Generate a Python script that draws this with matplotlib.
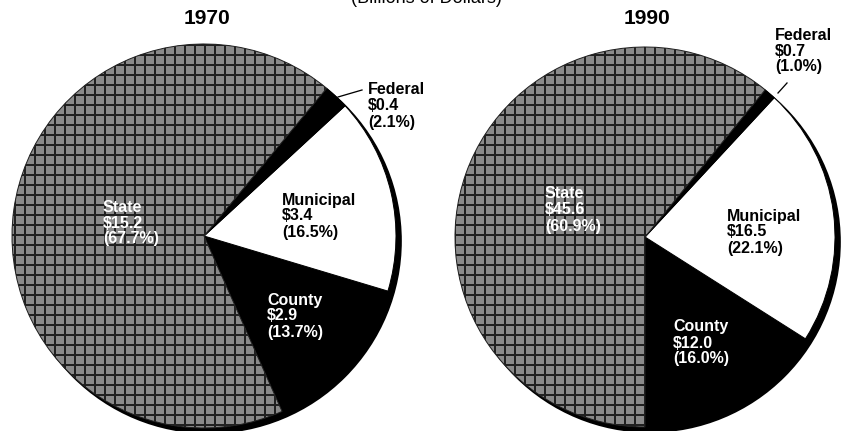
import matplotlib.pyplot as plt
from matplotlib.patches import Circle

DPI = 120
plt.rcParams['font.family'] = ['Liberation Sans', 'DejaVu Sans']
plt.rcParams['hatch.linewidth'] = 1.2

# wedge order runs counter-clockwise from the start angle
sources = ['County', 'Municipal', 'Federal', 'State']
amounts_1970 = [2.9, 3.4, 0.4, 15.2]
shares_1970 = [13.7, 16.5, 2.1, 67.7]
amounts_1990 = [12.0, 16.5, 0.7, 45.6]
shares_1990 = [16.0, 22.1, 1.0, 60.9]
years = ['1970', '1990']

W, H = 842, 431
fig = plt.figure(figsize=(W / DPI, H / DPI), dpi=DPI)
ax = fig.add_axes([0, 0, 1, 1])

fills = ['black', 'white', 'black', '#8a8a8a']
ink = ['white', 'black', 'black', 'white']


def pt(px):
    return px * 72 / DPI


def draw_pie(cx, cy, r, shares, start):
    # black drop shadow peeking out at lower right
    ax.add_patch(Circle((cx + 5, H - cy - 5), r, color='black', zorder=0.5))
    wedges, _ = ax.pie(shares, colors=fills, startangle=start,
                       center=(cx, H - cy), radius=r, frame=True,
                       wedgeprops=dict(linewidth=pt(1), edgecolor='black'))
    wedges[3].set_hatch('++')
    wedges[3].set_edgecolor('#202020')


def label(x, y, name, amount, share, color):
    lines = [name, f'${amount:.1f}', f'({share:.1f}%)']
    for i, s in enumerate(lines):
        ax.text(x, H - (y + i * 16), s, color=color, fontsize=pt(16),
                fontweight='bold', va='center', ha='left', zorder=5)


draw_pie(204, 236, 192, shares_1970, -66)
draw_pie(645, 237, 190, shares_1990, -90)

# label anchors: (left x, first line y) in pixels from the top
spots_1970 = [(267, 300), (282, 200), (368, 90), (103, 207)]
spots_1990 = [(673, 327), (727, 216), (775, 35), (545, 194)]

for i, name in enumerate(sources):
    label(*spots_1970[i], name, amounts_1970[i], shares_1970[i], ink[i])
    label(*spots_1990[i], name, amounts_1990[i], shares_1990[i], ink[i])

# leader lines to the thin federal slices
ax.plot([338, 362], [H - 97, H - 90], color='black', lw=pt(1.3), zorder=5)
ax.plot([778, 787], [H - 93, H - 83], color='black', lw=pt(1.3), zorder=5)

ax.text(207, H - 18, years[0], fontsize=pt(21), fontweight='bold', ha='center', va='center')
ax.text(647, H - 18, years[1], fontsize=pt(21), fontweight='bold', ha='center', va='center')
ax.text(426, H - 3, '(Billions of Dollars)', fontsize=pt(18), ha='center', va='baseline')

ax.set_xlim(0, W)
ax.set_ylim(0, H)
ax.axis('off')

fig.savefig('out.png', dpi=DPI)
